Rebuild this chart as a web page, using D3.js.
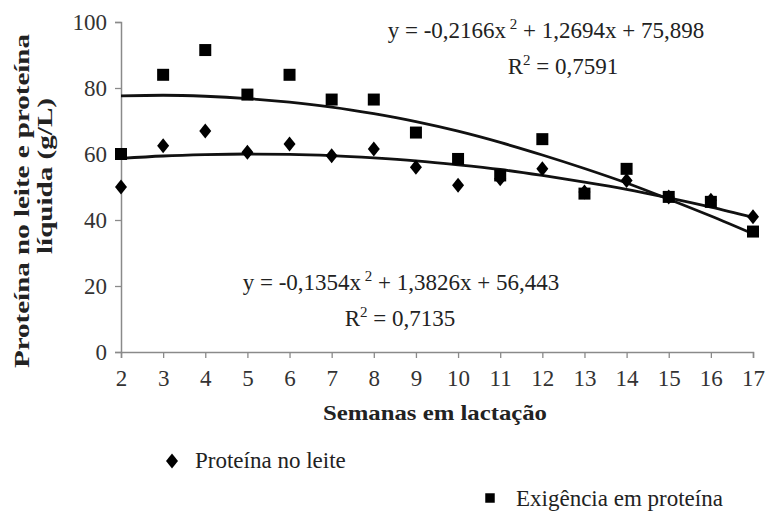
<!DOCTYPE html>
<html lang="pt">
<head>
<meta charset="utf-8">
<script src="https://cdn.jsdelivr.net/npm/d3@7"></script>
</head>
<body style="margin:0">
<svg id="drawing_region" width="765" height="515" font-family="Liberation Serif"></svg>
<script>
// semanas em lactação
const weeks = [2, 3, 4, 5, 6, 7, 8, 9, 10, 11, 12, 13, 14, 15, 16, 17];
// pontos observados
const leite = [50, 62.5, 67, 60.5, 63, 59.5, 61.5, 56, 50.5, 52.5, 55.5, 48.5, 52, 47, 46, 41];
const exigencia = [60, 84, 91.5, 78, 84, 76.5, 76.5, 66.5, 58.5, 53.5, 64.5, 48, 55.5, 47, 45.5, 36.5];
// linhas de tendência
const leiteTrend = [58.7, 59.4, 59.8, 60.0, 59.9, 59.5, 58.8, 57.9, 56.7, 55.3, 53.5, 51.5, 49.3, 46.7, 43.9, 40.8];
const exigTrend = [77.6, 77.8, 77.5, 76.8, 75.7, 74.2, 72.2, 69.8, 66.9, 63.5, 59.7, 55.6, 51.2, 46.3, 41.2, 35.8];
const yTicks = [0, 20, 40, 60, 80, 100];

const FONT = 'Liberation Serif';

const config = {
    width: 765,
    height: 515,
    margin: {top: 22, right: 12, bottom: 163, left: 121}
};

const svg = d3.select('#drawing_region');

const inner_width = config.width - config.margin.left - config.margin.right;
const inner_height = config.height - config.margin.top - config.margin.bottom;

const chart = svg.append('g')
    .attr('transform', `translate(${config.margin.left}, ${config.margin.top})`);

const xscale = d3.scaleLinear().domain([2, 17]).range([0, inner_width]);
const yscale = d3.scaleLinear().domain([0, 100]).range([inner_height, 0]);

// eixos
const xaxis = d3.axisBottom(xscale).tickValues(weeks).tickSize(6).tickPadding(12).tickFormat(d3.format('d'));
const yaxis = d3.axisLeft(yscale).tickValues(yTicks).tickSize(6).tickPadding(8);

const xg = chart.append('g').attr('transform', `translate(0, ${inner_height})`).call(xaxis);
const yg = chart.append('g').call(yaxis);

[xg, yg].forEach(g => {
    g.attr('font-family', FONT).attr('font-size', 23);
    g.select('.domain').attr('stroke', '#8a8a8a').attr('stroke-width', 1.5);
    g.selectAll('.tick line').attr('stroke', '#8a8a8a').attr('stroke-width', 1.3);
    g.selectAll('.tick text').attr('font-family', FONT).attr('fill', '#333');
});

// linhas de tendência
const line = d3.line()
    .x((d, i) => xscale(weeks[i]))
    .y(d => yscale(d))
    .curve(d3.curveMonotoneX);

[leiteTrend, exigTrend].forEach(s => {
    chart.append('path')
        .datum(s)
        .attr('d', line)
        .attr('fill', 'none')
        .attr('stroke', '#111')
        .attr('stroke-width', 2.8);
});

// marcadores
const diamond = 'M0,-7.5L6,0L0,7.5L-6,0Z';
const square = d3.symbol(d3.symbolSquare, 144)();

chart.selectAll('.leite')
    .data(leite)
    .enter()
    .append('path')
    .attr('class', 'leite')
    .attr('d', diamond)
    .attr('transform', (d, i) => `translate(${xscale(weeks[i])}, ${yscale(d)})`)
    .attr('fill', '#000');

chart.selectAll('.exig')
    .data(exigencia)
    .enter()
    .append('path')
    .attr('class', 'exig')
    .attr('d', square)
    .attr('transform', (d, i) => `translate(${xscale(weeks[i])}, ${yscale(d)})`)
    .attr('fill', '#000');

function addText(x, y, size, bold) {
    return svg.append('text')
        .attr('x', x).attr('y', y)
        .attr('font-family', FONT)
        .attr('font-size', size)
        .attr('font-weight', bold ? 'bold' : null)
        .attr('fill', '#222');
}

// equações
function equation(x, y, a, sup, b) {
    const t = addText(x, y, 23).attr('text-anchor', 'middle');
    t.append('tspan').text(a);
    t.append('tspan').attr('font-size', 15).attr('dy', -9).text(sup);
    t.append('tspan').attr('dy', 9).text(b);
}
equation(546, 38, 'y = -0,2166x', ' 2', ' + 1,2694x + 75,898');
equation(563, 74, 'R', '2', ' = 0,7591');
equation(401, 290, 'y = -0,1354x', ' 2', ' + 1,3826x + 56,443');
equation(400, 326, 'R', '2', ' = 0,7135');

// títulos dos eixos (o original está esticado)
addText(435, 420, 22, true)
    .attr('text-anchor', 'middle')
    .attr('textLength', 224)
    .attr('lengthAdjust', 'spacingAndGlyphs')
    .text('Semanas em lactação');

addText(0, 0, 22, true)
    .attr('transform', 'translate(29, 201) rotate(-90)')
    .attr('text-anchor', 'middle')
    .attr('textLength', 334)
    .attr('lengthAdjust', 'spacingAndGlyphs')
    .text('Proteína no leite e proteína');

addText(0, 0, 22, true)
    .attr('transform', 'translate(52, 176) rotate(-90)')
    .attr('text-anchor', 'middle')
    .attr('textLength', 156)
    .attr('lengthAdjust', 'spacingAndGlyphs')
    .text('líquida (g/L)');

// legenda
svg.append('path').attr('d', diamond).attr('transform', 'translate(172, 461)').attr('fill', '#000');
addText(195, 468, 23).text('Proteína no leite');
svg.append('path').attr('d', d3.symbol(d3.symbolSquare, 90)()).attr('transform', 'translate(490, 498)').attr('fill', '#000');
addText(516, 506, 23).text('Exigência em proteína');
</script>
</body>
</html>
